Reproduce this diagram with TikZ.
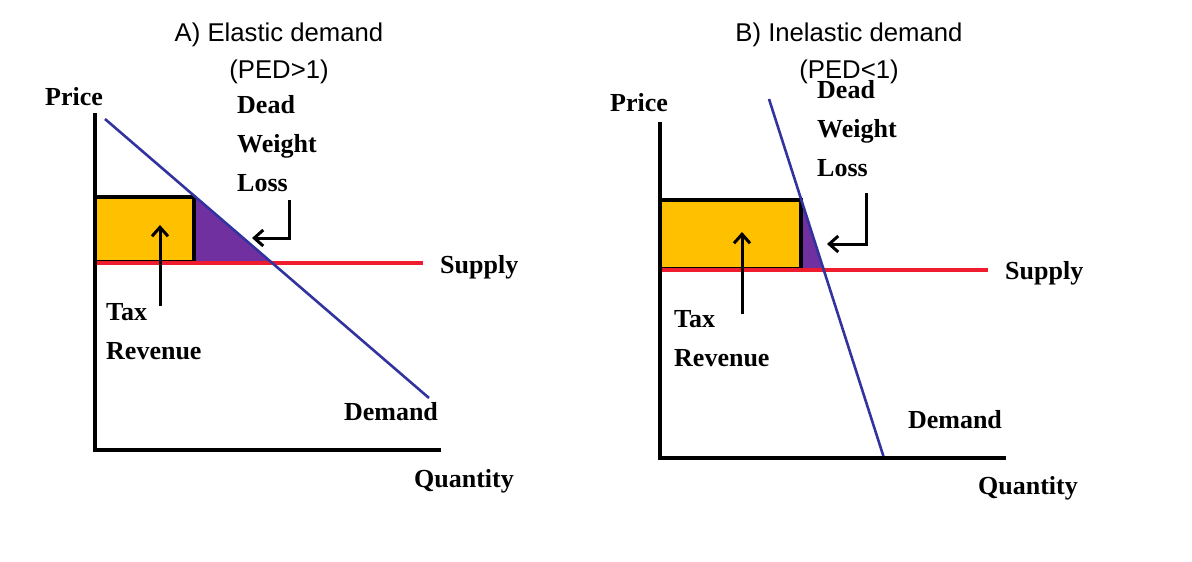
\documentclass[tikz,border=0pt]{standalone}
\usepackage{fontspec}
\setmainfont{Liberation Serif}
\newfontfamily\titlefont{Liberation Sans}
\usetikzlibrary{arrows.meta}
\definecolor{taxgold}{HTML}{FFC000}
\definecolor{dwlpurple}{HTML}{7030A0}
\definecolor{demandblue}{HTML}{3333A0}
\definecolor{supplyred}{HTML}{EE1C2C}

\begin{document}
\begin{tikzpicture}[x=1pt, y=-1pt,
  axis/.style={line width=3.5pt},
  demand/.style={draw=demandblue, line width=2.6pt},
  supply/.style={draw=supplyred, line width=3.2pt},
  taxbox/.style={fill=taxgold, draw=black, line width=3.5pt},
  lbl/.style={font=\fontsize{26}{39}\selectfont\bfseries, inner sep=0pt, align=left},
  ttl/.style={font=\titlefont\fontsize{25.7}{30}\selectfont, inner sep=0pt},
  pointer/.style={line width=3pt, -{Straight Barb[length=9pt,width=16pt]}}]
\useasboundingbox (0,0) rectangle (1192,562);
% A) elastic demand
\coordinate (ao) at (95,450);
\coordinate (ay) at (95,113);
\coordinate (ax) at (441,450);
\coordinate (ad1) at (105,119);
\coordinate (ad2) at (429,398);
\coordinate (as1) at (95,263);
\coordinate (as2) at (423,263);
\coordinate (at1) at (160,306);
\coordinate (at2) at (160,225);
\coordinate (aw1) at (289,200);
\coordinate (aw2) at (252,238);
\fill[dwlpurple] (194,196) -- (271,262) -- (194,262) -- cycle;
\draw[taxbox] (95,197) rectangle (194,262);
\draw[supply] (as1) -- (as2);
\draw[demand] (ad1) -- (ad2);
\draw[axis] (ay) -- (ao) -- (ax);
\draw[pointer] (at1) -- (at2);
\draw[pointer] (aw1) |- (aw2);
\node[ttl] (atitle) at (279,35) {A) Elastic demand};
\node[ttl] (aped) at (279,72) {(PED>1)};
\node[lbl] (aprice) at (74,97) {Price};
\node[lbl, anchor=west] (adwl) at (237,144) {Dead\\Weight\\Loss};
\node[lbl, anchor=west] (asupply) at (440,267) {Supply};
\node[lbl, anchor=west] (atax) at (106,332) {Tax\\Revenue};
\node[lbl] (ademand) at (391,412) {Demand};
\node[lbl] (aqty) at (464,481) {Quantity};
% B) inelastic demand
\coordinate (bo) at (660,458);
\coordinate (by) at (660,122);
\coordinate (bx) at (1006,458);
\coordinate (bd1) at (769,99);
\coordinate (bd2) at (884,458);
\coordinate (bs1) at (660,270);
\coordinate (bs2) at (988,270);
\coordinate (bt1) at (742,314);
\coordinate (bt2) at (742,232);
\coordinate (bw1) at (866,193);
\coordinate (bw2) at (827,244);
\fill[dwlpurple] (801,199) -- (824,270) -- (801,270) -- cycle;
\draw[taxbox] (660,200) rectangle (801,269);
\draw[supply] (bs1) -- (bs2);
\draw[demand] (bd1) -- (bd2);
\draw[axis] (by) -- (bo) -- (bx);
\draw[pointer] (bt1) -- (bt2);
\draw[pointer] (bw1) |- (bw2);
\node[ttl] (btitle) at (849,35) {B) Inelastic demand};
\node[ttl] (bped) at (849,72) {(PED<1)};
\node[lbl] (bprice) at (639,103) {Price};
\node[lbl, anchor=west] (bdwl) at (817,129) {Dead\\Weight\\Loss};
\node[lbl, anchor=west] (bsupply) at (1005,273) {Supply};
\node[lbl, anchor=west] (btax) at (674,339) {Tax\\Revenue};
\node[lbl] (bdemand) at (955,420) {Demand};
\node[lbl] (bqty) at (1028,488) {Quantity};
\end{tikzpicture}
\end{document}
